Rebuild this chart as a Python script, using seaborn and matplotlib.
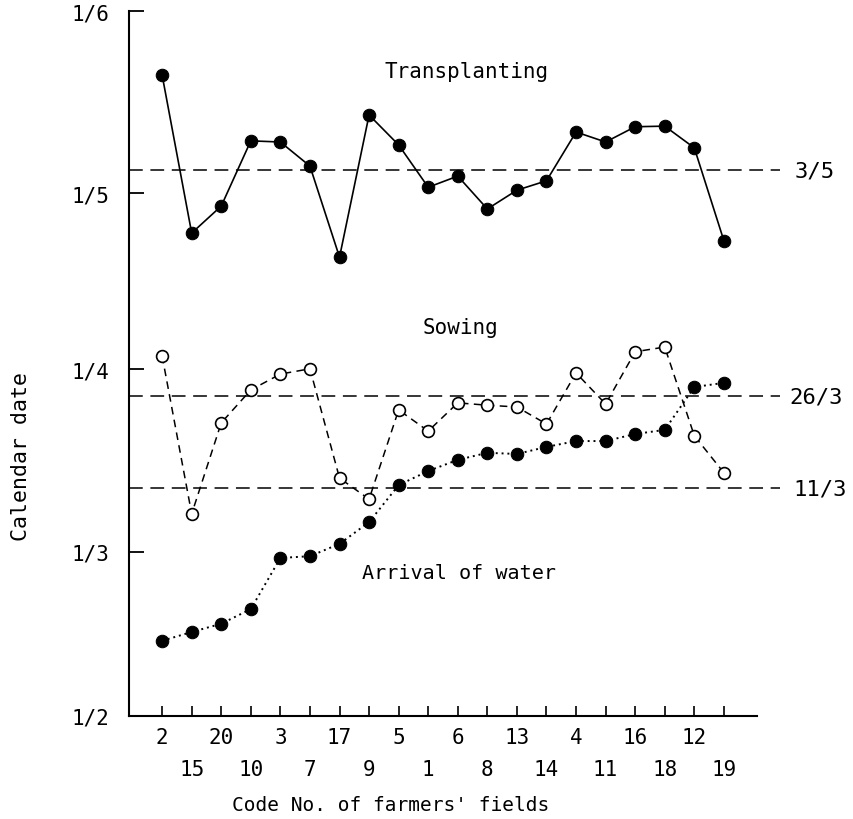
import numpy as np
import pandas as pd
import matplotlib
matplotlib.use("Agg")
import matplotlib.pyplot as plt
import seaborn as sns

# Code No. of farmers' fields, in plotted order
fields = ["2", "15", "20", "10", "3", "7", "17", "9", "5", "1",
          "6", "8", "13", "14", "4", "11", "16", "18", "12", "19"]

# Dates as days after 1 February
transplanting = [109.1, 82.2, 86.8, 97.9, 97.7, 93.6, 78.1, 102.3, 97.2, 90.0,
                 91.9, 86.3, 89.5, 91.1, 99.4, 97.7, 100.3, 100.4, 96.7, 80.9]
sowing = [61.3, 34.4, 49.9, 55.5, 58.2, 59.1, 40.5, 36.9, 52.1, 48.5,
          53.3, 52.9, 52.6, 49.7, 58.4, 53.1, 62.0, 62.8, 47.7, 41.4]
arrival = [12.8, 14.3, 15.7, 18.2, 26.9, 27.2, 29.3, 33.0, 39.3, 41.7,
           43.6, 44.8, 44.6, 45.8, 46.8, 46.8, 48.0, 48.7, 56.0, 56.7]

ref_values = [92.9, 54.4, 38.8]
ref_labels = ["3/5", "26/3", "11/3"]

month_ticks = [0, 28, 59, 89, 120]
month_labels = ["1/2", "1/3", "1/4", "1/5", "1/6"]

sns.set_style("ticks")
plt.rcParams["font.family"] = ["DejaVu Sans Mono", "DejaVu Sans"]
plt.rcParams["axes.edgecolor"] = "black"
plt.rcParams["xtick.color"] = "black"
plt.rcParams["ytick.color"] = "black"
plt.rcParams["text.color"] = "black"
plt.rcParams["axes.labelcolor"] = "black"

fig = plt.figure(figsize=(8.54, 8.2), dpi=100)
ax = fig.add_axes([129 / 854, 1 - 717 / 820, 628 / 854, 705 / 820])

idx = np.arange(len(fields))
df = pd.DataFrame({"idx": idx, "transplanting": transplanting,
                   "sowing": sowing, "arrival": arrival})

sns.lineplot(data=df, x="idx", y="transplanting", ax=ax, color="black",
             linewidth=1.2, marker="o", markersize=9, markeredgecolor="black",
             markerfacecolor="black")
sns.lineplot(data=df, x="idx", y="sowing", ax=ax, color="black",
             linewidth=1.1, linestyle=(0, (5, 3.5)), marker="o", markersize=8.5,
             markeredgecolor="black", markerfacecolor="white", markeredgewidth=1.2)
sns.lineplot(data=df, x="idx", y="arrival", ax=ax, color="black",
             linewidth=1.4, linestyle=(0, (1, 2)), marker="o", markersize=9,
             markeredgecolor="black", markerfacecolor="black")

x_left = -1.12
x_right = 20.12
label_x = [21.4, 21.2, 21.35]
for v, lab, lx in zip(ref_values, ref_labels, label_x):
    ax.plot([x_left, 20.9], [v, v], color="black", linewidth=1.1,
            linestyle=(0, (9, 5)), clip_on=False, zorder=1)
    ax.text(lx, v, lab, ha="left", va="center", fontsize=16, clip_on=False)

ax.text(10.3, 109.8, "Transplanting", ha="center", va="center", fontsize=15)
ax.text(10.1, 66.2, "Sowing", ha="center", va="center", fontsize=15)
ax.text(10.05, 24.5, "Arrival of water", ha="center", va="center", fontsize=14.5)

ax.set_xlim(x_left, x_right)
ax.set_ylim(0, 120)
ax.set_yticks(month_ticks, labels=month_labels)
ax.set_xticks(idx[0::2], labels=fields[0::2])
ax.set_xticks(idx[1::2], labels=fields[1::2], minor=True)

ax.tick_params(axis="y", direction="in", length=11, width=1.3, labelsize=15, pad=14)
ax.tick_params(axis="x", which="both", direction="in", length=7, width=1.2,
               labelsize=15)
ax.tick_params(axis="x", which="major", pad=8)
ax.tick_params(axis="x", which="minor", pad=31)

for s in ["top", "right"]:
    ax.spines[s].set_visible(False)
for s in ["left", "bottom"]:
    ax.spines[s].set_linewidth(1.5)

ax.set_xlabel("Code No. of farmers' fields", fontsize=14)
ax.set_ylabel("Calendar date", fontsize=15.5)
ax.xaxis.set_label_coords(0.416, -0.112)
ax.yaxis.set_label_coords(-0.156, 0.37)

fig.savefig("out.png", dpi=100)
